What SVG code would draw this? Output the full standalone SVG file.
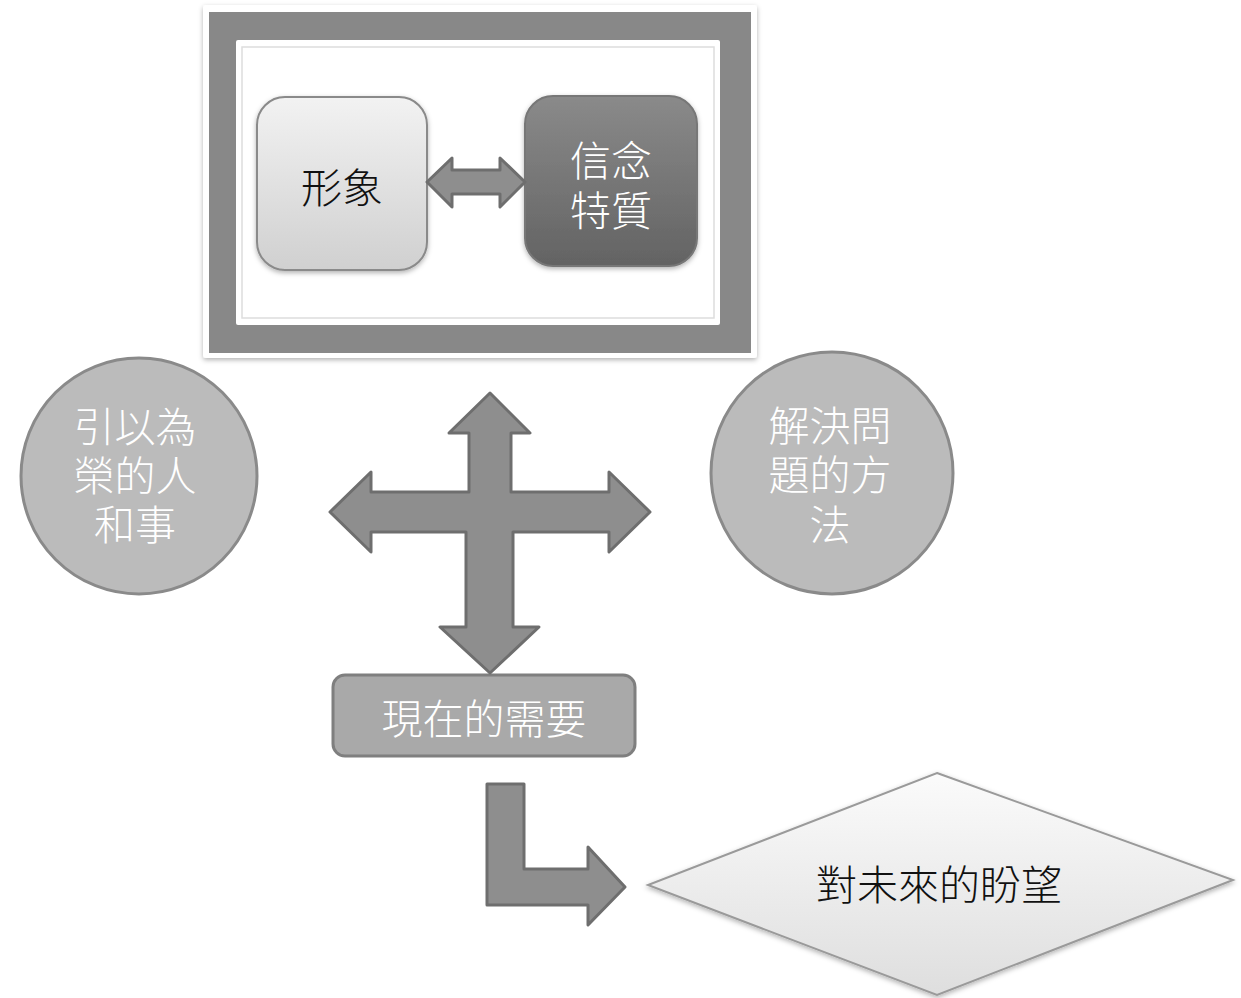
<svg xmlns="http://www.w3.org/2000/svg" width="1241" height="998" viewBox="0 0 1241 998">
<defs>
<linearGradient id="gLight" x1="0" y1="0" x2="0" y2="1"><stop offset="0" stop-color="#f2f2f2"/><stop offset="1" stop-color="#d0d0d0"/></linearGradient>
<linearGradient id="gDark" x1="0" y1="0" x2="0" y2="1"><stop offset="0" stop-color="#8a8a8a"/><stop offset="1" stop-color="#636363"/></linearGradient>
<linearGradient id="gDiamond" x1="0" y1="0" x2="0" y2="1"><stop offset="0" stop-color="#fbfbfb"/><stop offset="1" stop-color="#dedede"/></linearGradient>
<filter id="sh" x="-10%" y="-10%" width="120%" height="120%"><feDropShadow dx="0" dy="2" stdDeviation="2.5" flood-color="#000" flood-opacity="0.3"/></filter>
<style>
.t{font-family:"Noto Sans CJK TC","Noto Sans CJK SC",sans-serif;font-weight:300;font-size:41px;text-anchor:middle}
.w{fill:#ffffff}
.k{fill:#111111}
.arrow{fill:#8e8e8e;stroke:#6e6e6e;stroke-width:3;stroke-linejoin:round}
.circ{fill:#bbbbbb;stroke:#8a8a8a;stroke-width:3}
</style>
</defs>
<g id="frame">
<rect x="203" y="5" width="554" height="353" rx="3" fill="#ffffff" filter="url(#sh)"/>
<rect x="209" y="12" width="542" height="341" fill="#888888"/>
<rect x="236" y="40" width="484" height="285" rx="2" fill="#ffffff"/>
<rect x="242" y="47" width="472" height="271" fill="none" stroke="#dddddd" stroke-width="1.5"/>
</g>
<g id="node-xingxiang">
<rect x="257" y="97" width="170" height="173" rx="28" fill="url(#gLight)" stroke="#8a8a8a" stroke-width="2" filter="url(#sh)"/>
<text class="t k" x="342" y="203">形象</text>
</g>
<g id="node-xinnian">
<rect x="525" y="96" width="172" height="170" rx="28" fill="url(#gDark)" stroke="#777777" stroke-width="2" filter="url(#sh)"/>
<text class="t w" x="611" y="176"><tspan x="611" y="176">信念</tspan><tspan x="611" y="226">特質</tspan></text>
</g>
<g id="node-left">
<circle class="circ" cx="139" cy="476" r="118"/>
<text class="t w" x="135" y="442"><tspan x="135" y="442">引以為</tspan><tspan x="135" y="491">榮的人</tspan><tspan x="135" y="540">和事</tspan></text>
</g>
<g id="node-right">
<circle class="circ" cx="832" cy="473" r="121"/>
<text class="t w" x="830" y="441"><tspan x="830" y="441">解決問</tspan><tspan x="830" y="490">題的方</tspan><tspan x="830" y="540">法</tspan></text>
</g>
<g id="node-need">
<rect x="333" y="675" width="302" height="81" rx="12" fill="#a9a9a9" stroke="#7f7f7f" stroke-width="3"/>
<text class="t w" x="484" y="734">現在的需要</text>
</g>
<g id="node-future">
<polygon points="937,773 1233,880 937,995 648,885" fill="url(#gDiamond)" stroke="#9a9a9a" stroke-width="2" filter="url(#sh)"/>
<text class="t k" x="939" y="900">對未來的盼望</text>
</g>
<g id="connectors">
<path class="arrow" d="M427,182 L452,158 L452,170 L500,170 L500,158 L525,182 L500,207 L500,194 L452,194 L452,207 Z"/>
<path class="arrow" d="M490,393 L530,433 L511,433 L511,492 L609,492 L609,472 L650,512 L609,552 L609,532 L513,532 L513,627 L539,627 L490,673 L440,627 L466,627 L466,532 L371,532 L371,552 L330,512 L371,472 L371,492 L469,492 L469,433 L449,433 Z"/>
<path class="arrow" d="M487,784 L524,784 L524,869 L588,869 L588,847 L625,887 L588,925 L588,905 L487,905 Z"/>
</g>
</svg>
